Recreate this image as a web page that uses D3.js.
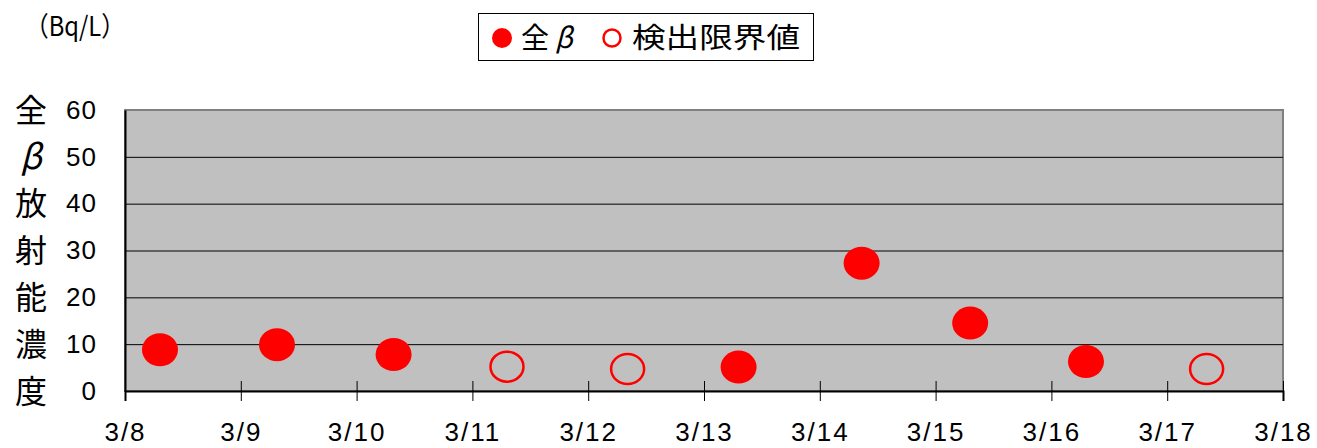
<!DOCTYPE html>
<html>
<head>
<meta charset="utf-8">
<script src="https://cdn.jsdelivr.net/npm/d3@7"></script>
<style>
body { margin: 0; background: #fff; }
text { font-family: "Liberation Sans", Arial, sans-serif; }
.jp { font-family: "Noto Sans CJK JP", sans-serif; }
</style>
</head>
<body>
<div id="chart"></div>
<script>
// sampling times (2011) and measured values, Bq/L
var sampleTimes = ["03-08 07:15", "03-09 07:30", "03-10 07:40", "03-11 07:10", "03-12 08:10",
                   "03-13 07:10", "03-14 08:40", "03-15 07:10", "03-16 07:10", "03-17 08:10"];
var values = [8.8, 9.9, 7.8, 5.2, 4.7, 5.1, 27.3, 14.5, 6.3, 4.7];
// true = 全β detected, false = below detection limit (検出限界値)
var detected = [true, true, true, false, false, true, true, true, true, false];
var xTickLabels = ["3/8", "3/9", "3/10", "3/11", "3/12", "3/13", "3/14", "3/15", "3/16", "3/17", "3/18"];
var yTicks = [0, 10, 20, 30, 40, 50, 60];
var yTitle = ["全", "β", "放", "射", "能", "濃", "度"];
var unitLabel = "（Bq/L）";
var legendNames = [["全", "β"], ["検出限界値"]];

var width = 1317, height = 448,
margin = {"top": 110, "right": 34, "bottom": 57, "left": 125};

var parse = d3.timeParse("%Y-%m-%d %H:%M");
var data = sampleTimes.map(function(t, i) {
	return {date: parse("2011-" + t), value: values[i], detected: detected[i]};
});

var svg = d3.select("#chart").append("svg")
.attr("width", width)
.attr("height", height);

var x = d3.scaleTime()
.domain([new Date(2011, 2, 8), new Date(2011, 2, 18)])
.range([margin.left, width - margin.right]);

var y = d3.scaleLinear()
.domain([0, 60])
.range([height - margin.bottom, margin.top]);

// plot area
svg.append("rect")
.attr("x", margin.left)
.attr("y", margin.top)
.attr("width", width - margin.right - margin.left)
.attr("height", height - margin.bottom - margin.top)
.attr("fill", "#c0c0c0")
.attr("stroke", "#808080")
.attr("stroke-width", 2);

// gridlines
svg.append("g")
.selectAll("line")
.data(yTicks.filter(d => d > 0 && d < 60))
.enter().append("line")
.attr("x1", margin.left)
.attr("x2", width - margin.right)
.attr("y1", d => y(d) + 0.5)
.attr("y2", d => y(d) + 0.5)
.attr("stroke", "#000")
.attr("stroke-width", 1);

// y axis
var yAxis = g => g
.attr("transform", `translate(${margin.left},0)`)
.call(d3.axisLeft(y).tickValues(yTicks).tickSize(0).tickPadding(28))
.call(g => g.select(".domain").attr("stroke", "#000").attr("stroke-width", 2))
.call(g => g.selectAll(".tick text")
	.attr("fill", "#000")
	.attr("font-size", 26)
	.attr("letter-spacing", 1)
	.attr("font-family", "Liberation Sans, Arial, sans-serif"));

svg.append("g").call(yAxis);

// x axis, ticks cross the axis line
var xAxis = g => g
.attr("transform", `translate(0,${height - margin.bottom})`)
.call(d3.axisBottom(x)
	.tickValues(d3.range(11).map(i => new Date(2011, 2, 8 + i)))
	.tickFormat((d, i) => xTickLabels[i])
	.tickSize(10)
	.tickPadding(22))
.call(g => g.select(".domain").attr("stroke", "#000").attr("stroke-width", 2))
.call(g => g.selectAll(".tick line").attr("y1", -10).attr("stroke", "#000"))
.call(g => g.selectAll(".tick text")
	.attr("fill", "#000")
	.attr("font-size", 26)
	.attr("letter-spacing", 2)
	.attr("font-family", "Liberation Sans, Arial, sans-serif"));

svg.append("g").call(xAxis);

// points
svg.append("g")
.selectAll("ellipse")
.data(data)
.enter().append("ellipse")
.attr("cx", d => x(d.date))
.attr("cy", d => y(d.value))
.attr("rx", d => d.detected ? 18 : 16.5)
.attr("ry", d => d.detected ? 16.5 : 15)
.attr("fill", d => d.detected ? "#ff0000" : "none")
.attr("stroke", d => d.detected ? "none" : "#ff0000")
.attr("stroke-width", 2.5);

// vertical y title
svg.append("g")
.selectAll("text")
.data(yTitle)
.enter().append("text")
.attr("class", "jp")
.attr("x", 31)
.attr("y", (d, i) => y(yTicks[6 - i]))
.attr("dy", "0.36em")
.attr("text-anchor", "middle")
.attr("font-size", d => d === "β" ? 34 : 32)
.attr("font-style", d => d === "β" ? "italic" : null)
.text(d => d);

svg.append("text")
.attr("class", "jp")
.attr("x", 25)
.attr("y", 36)
.attr("font-size", 27)
.attr("textLength", 100)
.attr("lengthAdjust", "spacingAndGlyphs")
.text(unitLabel);

// legend
var legend = svg.append("g");
legend.append("rect")
.attr("x", 478.5)
.attr("y", 13.5)
.attr("width", 335)
.attr("height", 47)
.attr("fill", "#fff")
.attr("stroke", "#000")
.attr("stroke-width", 1);

legend.append("circle")
.attr("cx", 502)
.attr("cy", 38)
.attr("r", 10)
.attr("fill", "#ff0000");

var t1 = legend.append("text")
.attr("class", "jp")
.attr("x", 521)
.attr("y", 38)
.attr("dy", "0.36em")
.attr("font-size", 28);
t1.append("tspan").text(legendNames[0][0]);
t1.append("tspan").attr("dx", 6).attr("font-style", "italic").text(legendNames[0][1]);

legend.append("circle")
.attr("cx", 612)
.attr("cy", 38)
.attr("r", 8.5)
.attr("fill", "none")
.attr("stroke", "#ff0000")
.attr("stroke-width", 2.5);

legend.append("text")
.attr("class", "jp")
.attr("x", 632)
.attr("y", 38)
.attr("dy", "0.36em")
.attr("font-size", 28)
.attr("textLength", 168)
.attr("lengthAdjust", "spacingAndGlyphs")
.text(legendNames[1][0]);
</script>
</body>
</html>
